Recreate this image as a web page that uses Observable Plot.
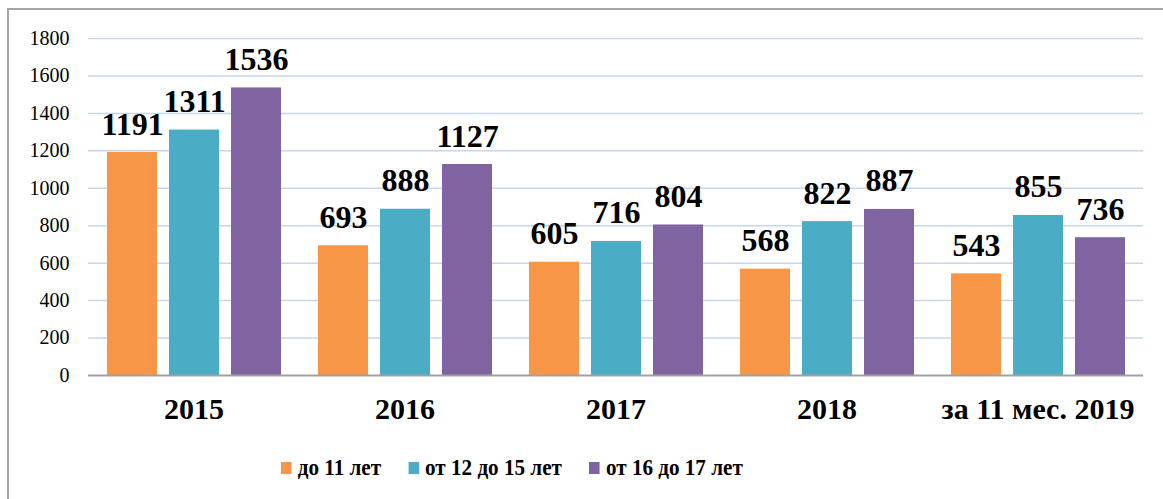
<!DOCTYPE html>
<html>
<head>
<meta charset="utf-8">
<script src="https://cdn.jsdelivr.net/npm/d3@7"></script>
<script src="https://cdn.jsdelivr.net/npm/@observablehq/plot@0.6"></script>
<style>
  html, body { margin: 0; padding: 0; background: #fff; width: 1163px; height: 499px; overflow: hidden; }
  #frame { position: absolute; left: 7px; top: 8px; width: 1200px; height: 560px;
           border-left: 2px solid #a6a6a6; border-top: 2px solid #a6a6a6; }
  #chart { position: absolute; left: 10px; top: 10px; }
  #chart svg text { font-family: "Liberation Serif", "Times New Roman", serif; }
  #legend { position: absolute; left: 281px; top: 454px; display: flex; align-items: center; gap: 31px;
            transform: scaleX(0.88); transform-origin: 0 50%;
            font-family: "Liberation Serif", "Times New Roman", serif; font-weight: bold; font-size: 24px; color: #000; }
  #legend .item { display: flex; align-items: center; gap: 7px; }
  #legend .sw { width: 12px; height: 12px; display: inline-block; }
</style>
</head>
<body>
<div id="frame"></div>
<div id="chart"></div>
<div id="legend"></div>
<script>
const categories = ["2015", "2016", "2017", "2018", "за 11 мес. 2019"];
const series = ["до 11 лет", "от 12 до 15 лет", "от 16 до 17 лет"];
const under11 = [1191, 693, 605, 568, 543];
const from12to15 = [1311, 888, 716, 822, 855];
const from16to17 = [1536, 1127, 804, 887, 736];
const yTicks = [0, 200, 400, 600, 800, 1000, 1200, 1400, 1600, 1800];
const colors = ["#f79646", "#4bacc6", "#8064a2"];

const seriesValues = [under11, from12to15, from16to17];
const rows = [];
categories.forEach((c, i) => {
  series.forEach((s, j) => rows.push({cat: c, series: s, value: seriesValues[j][i]}));
});

const serif = "Liberation Serif, Times New Roman, serif";

const chart = Plot.plot({
  width: 1153,
  height: 425,
  marginLeft: 76,
  marginRight: 18,
  marginTop: 28,
  marginBottom: 60,
  style: {fontFamily: serif, color: "#000", background: "transparent"},
  fx: {domain: categories, padding: 0, label: null},
  x: {domain: series, axis: null, paddingInner: 0.194, paddingOuter: 0.2986},
  y: {domain: [0, 1800], label: null},
  color: {domain: series, range: colors},
  marks: [
    Plot.ruleY(yTicks.filter(d => d > 0), {stroke: "#c6d6ec", strokeWidth: 1.5}),
    Plot.barY(rows, {fx: "cat", x: "series", y: "value", fill: "series"}),
    Plot.ruleY([0], {stroke: "#a0a0a0", strokeWidth: 2}),
    Plot.text(rows, {fx: "cat", x: "series", y: "value", text: d => String(d.value),
      lineAnchor: "bottom", dy: -18, fontSize: 32, fontWeight: "bold", fill: "#000", fontFamily: serif}),
    Plot.axisY({ticks: yTicks, tickFormat: d => String(d), tickSize: 0, tickPadding: 19, fontSize: 20, label: null, fontFamily: serif}),
    Plot.axisFx({anchor: "bottom", tickSize: 0, tickPadding: 22, fontSize: 30, fontWeight: "bold", label: null, fontFamily: serif})
  ]
});
document.getElementById("chart").appendChild(chart);

const legend = document.getElementById("legend");
series.forEach((s, i) => {
  const item = document.createElement("div");
  item.className = "item";
  const sw = document.createElement("span");
  sw.className = "sw";
  sw.style.background = colors[i];
  const t = document.createElement("span");
  t.textContent = s;
  item.appendChild(sw);
  item.appendChild(t);
  legend.appendChild(item);
});
</script>
</body>
</html>
